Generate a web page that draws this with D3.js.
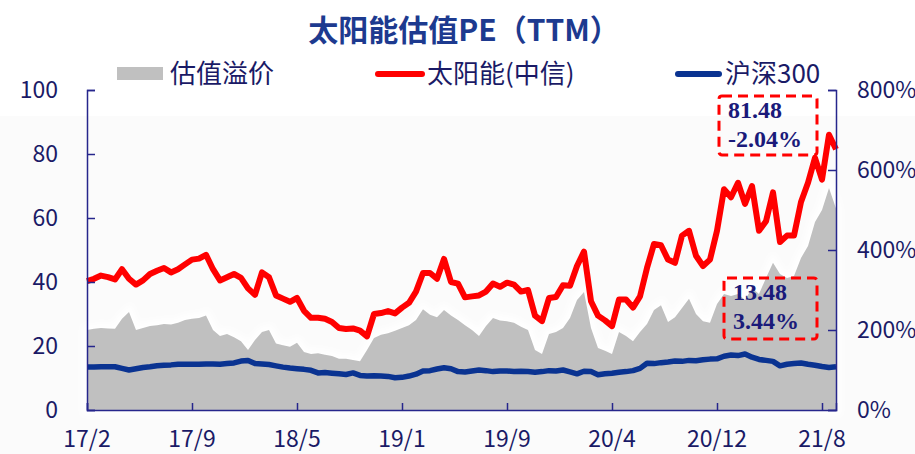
<!DOCTYPE html>
<html>
<head>
<meta charset="utf-8">
<script src="https://cdn.jsdelivr.net/npm/d3@7"></script>
<style>
html, body { margin: 0; padding: 0; background: #ffffff; }
svg { display: block; }
</style>
</head>
<body>
<svg id="chart" width="915" height="454"></svg>
<script>
// tick labels on the x axis (every 15 points)
var x_tick_labels = ["17/2", "17/9", "18/5", "19/1", "19/9", "20/4", "20/12", "21/8"];

// 太阳能(中信) PE (TTM)
var solar_pe = [
    40.3, 41, 42, 41.5, 40.8, 44, 41, 39.2, 40.5, 42.5,
    43.5, 44.4, 43, 44, 45.5, 47, 47.3, 48.5, 44, 40.5,
    41.5, 42.5, 41.3, 38, 36, 43, 41.5, 35.8, 34.8, 33.8,
    35, 31, 28.8, 28.8, 28.5, 27.5, 25.6, 25.3, 25.5, 24.8,
    23, 30, 30.3, 30.9, 30.2, 32, 33.5, 37, 42.8, 42.8,
    41, 47.2, 40, 39.5, 35.2, 35.5, 35.8, 37, 39.5, 38.5,
    39.8, 39.2, 37, 37.5, 29.5, 27.8, 35, 35.3, 39, 38.8,
    45, 49.5, 34, 29.5, 28, 26.2, 34.5, 34.5, 32, 35.5,
    44.4, 51.9, 51.5, 47, 46, 54.5, 56, 48.2, 45, 47,
    56, 69, 66.5, 71, 64.4, 70, 56, 59, 68, 52.5,
    54.5, 54.5, 65, 71, 78.8, 72, 86, 81.48
];

// 沪深300 PE (TTM)
var hs300_pe = [
    13.4, 13.4, 13.5, 13.5, 13.5, 13, 12.5, 12.9, 13.3, 13.5,
    13.8, 14, 14.1, 14.3, 14.3, 14.3, 14.3, 14.4, 14.4, 14.3,
    14.5, 14.7, 15.3, 15.5, 14.5, 14.4, 14.2, 13.8, 13.4, 13.1,
    12.9, 12.7, 12.4, 11.6, 11.7, 11.5, 11.3, 11.1, 11.6, 10.8,
    10.6, 10.7, 10.6, 10.5, 10.1, 10.2, 10.6, 11.2, 12.2, 12.3,
    12.8, 13.2, 12.9, 12, 11.9, 12.2, 12.5, 12.3, 12, 12.2,
    12.2, 12, 12.1, 12, 11.8, 12, 12.3, 12.2, 12.5, 11.9,
    11.3, 12.1, 12, 11, 11.3, 11.5, 11.8, 12, 12.3, 13,
    14.6, 14.5, 14.8, 15, 15.3, 15.2, 15.5, 15.4, 15.7, 15.9,
    16, 16.8, 17.2, 17, 17.5, 16.5, 15.8, 15.5, 15.2, 13.8,
    14.3, 14.5, 14.7, 14.3, 14, 13.6, 13.3, 13.48
];

// 估值溢价 (%), right axis
var premium_pct = [
    200, 203, 205, 204, 203, 228, 245, 200, 205, 210,
    212, 215, 214, 218, 225, 228, 230, 236, 200, 185,
    190, 182, 172, 150, 175, 195, 200, 166, 162, 158,
    168, 145, 140, 142, 138, 135, 128, 128, 125, 122,
    150, 180, 188, 192, 198, 205, 212, 225, 252, 238,
    232, 250, 236, 225, 212, 200, 185, 210, 230, 224,
    222, 218, 208, 200, 150, 140, 190, 195, 205, 230,
    275, 295, 205, 155, 148, 140, 195, 185, 172, 195,
    215, 250, 262, 220, 232, 255, 278, 240, 222, 218,
    265, 290, 285, 290, 275, 305, 290, 330, 368, 340,
    330, 335, 380, 410, 470, 500, 555, 504
];

var left_ticks = [0, 20, 40, 60, 80, 100];
var right_ticks = [0, 200, 400, 600, 800];
var legend_names = ["估值溢价", "太阳能(中信)", "沪深300"];
var note_solar = ["81.48", "-2.04%"];
var note_hs300 = ["13.48", "3.44%"];

var svg = d3.select("#chart");
var axis_color = "#26268c";
var label_color = "#1a1a66";
var label_font = "'Noto Sans CJK SC', 'Noto Sans', sans-serif";

// very faint grey backdrop under the header band
svg.append("rect").attr("x", 0).attr("y", 116).attr("width", 915).attr("height", 338).attr("fill", "#fbfbfb");

var x = d3.scaleLinear().domain([0, solar_pe.length - 1]).range([87, 836]);
var y_left = d3.scaleLinear().domain([0, 100]).range([410, 90]);
var y_right = d3.scaleLinear().domain([0, 800]).range([410, 90]);

// premium area
var area = d3.area()
    .x(function(d, i) { return x(i); })
    .y0(y_right(0))
    .y1(function(d) { return y_right(d); });

var defs = svg.append("defs");
defs.append("filter").attr("id", "glow").attr("x", "-5%").attr("y", "-20%").attr("width", "110%").attr("height", "140%")
    .append("feGaussianBlur").attr("stdDeviation", 3);

svg.append("path").datum(premium_pct)
    .attr("d", area)
    .attr("fill", "#ffffff")
    .attr("stroke", "#ffffff")
    .attr("stroke-width", 10)
    .attr("filter", "url(#glow)");
svg.append("path").datum(premium_pct)
    .attr("d", area)
    .attr("fill", "#c0c0c0");

var line_left = d3.line()
    .x(function(d, i) { return x(i); })
    .y(function(d) { return y_left(d); });

svg.append("path").datum(hs300_pe)
    .attr("d", line_left)
    .attr("fill", "none")
    .attr("stroke", "#0a3391")
    .attr("stroke-width", 5.5)
    .attr("stroke-linejoin", "round");

svg.append("path").datum(solar_pe)
    .attr("d", line_left)
    .attr("fill", "none")
    .attr("stroke", "#ff0000")
    .attr("stroke-width", 6)
    .attr("stroke-linejoin", "round");

// axes
var left_axis = d3.axisRight(y_left).tickValues(left_ticks).tickSize(8).tickFormat("");
var right_axis = d3.axisLeft(y_right).tickValues(right_ticks).tickSize(8).tickFormat("");
var bottom_axis = d3.axisTop(x).tickValues(x_tick_labels.map(function(d, i) { return i * 15; })).tickSize(7).tickFormat("");

function style_axis(g)
{
    g.selectAll("path, line").attr("stroke", axis_color).attr("stroke-width", 1.5);
}

svg.append("g").attr("transform", "translate(87,0)").call(left_axis).call(style_axis);
svg.append("g").attr("transform", "translate(836,0)").call(right_axis).call(style_axis);
svg.append("g").attr("transform", "translate(0,410)").call(bottom_axis).call(style_axis);

svg.append("g").selectAll("text").data(left_ticks).enter().append("text")
    .attr("x", 58)
    .attr("y", function(d) { return y_left(d) + 8; })
    .attr("text-anchor", "end")
    .attr("font-family", label_font)
    .attr("font-size", 23)
    .attr("fill", label_color)
    .text(function(d) { return d; });

svg.append("g").selectAll("text").data(right_ticks).enter().append("text")
    .attr("x", 857)
    .attr("y", function(d) { return y_right(d) + 8; })
    .attr("font-family", label_font)
    .attr("font-size", 23)
    .attr("fill", label_color)
    .text(function(d) { return d + "%"; });

svg.append("g").selectAll("text").data(x_tick_labels).enter().append("text")
    .attr("x", function(d, i) { return x(i * 15); })
    .attr("y", 447)
    .attr("text-anchor", "middle")
    .attr("font-family", label_font)
    .attr("font-size", 23)
    .attr("fill", label_color)
    .text(function(d) { return d; });

// title
svg.append("text")
    .attr("x", 464)
    .attr("y", 41)
    .attr("text-anchor", "middle")
    .attr("font-family", label_font)
    .attr("font-weight", "bold")
    .attr("font-size", 30)
    .attr("fill", "#1d3a8f")
    .text("太阳能估值PE（TTM）");

// legend
var legend = svg.append("g");
legend.append("rect").attr("x", 117).attr("y", 67).attr("width", 46).attr("height", 13).attr("fill", "#c0c0c0");
legend.append("line").attr("x1", 378).attr("x2", 422).attr("y1", 74).attr("y2", 74)
    .attr("stroke", "#ff0000").attr("stroke-width", 6).attr("stroke-linecap", "round");
legend.append("line").attr("x1", 678).attr("x2", 719).attr("y1", 74).attr("y2", 74)
    .attr("stroke", "#0a3391").attr("stroke-width", 6).attr("stroke-linecap", "round");
var legend_x = [170, 427, 725];
legend.selectAll("text").data(legend_names).enter().append("text")
    .attr("x", function(d, i) { return legend_x[i]; })
    .attr("y", 83)
    .attr("font-family", label_font)
    .attr("font-size", 26)
    .attr("fill", label_color)
    .text(function(d) { return d; });

// annotation boxes
function add_note(lines, bx, by, bw, bh, first_base)
{
    var g = svg.append("g");
    g.append("rect")
        .attr("x", bx).attr("y", by).attr("width", bw).attr("height", bh)
        .attr("rx", 3)
        .attr("fill", "none")
        .attr("stroke", "#ff0000")
        .attr("stroke-width", 3)
        .attr("stroke-dasharray", "10,6");
    g.selectAll("text").data(lines).enter().append("text")
        .attr("x", bx + 9)
        .attr("y", function(d, i) { return first_base + i * 28.5; })
        .attr("font-family", "'Liberation Serif', 'DejaVu Serif', serif")
        .attr("font-weight", "bold")
        .attr("font-size", 24)
        .attr("fill", "#1a1a7a")
        .text(function(d) { return d; });
}
add_note(note_solar, 719, 96, 98, 59, 118);
add_note(note_hs300, 724, 278, 93, 61, 300);
</script>
</body>
</html>
